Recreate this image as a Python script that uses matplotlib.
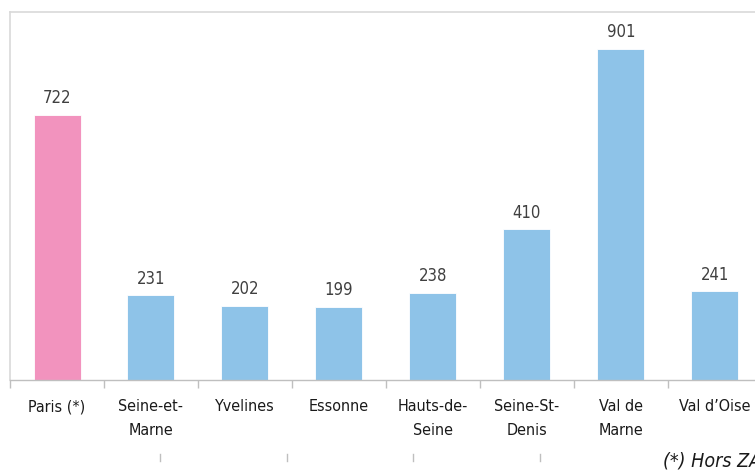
import matplotlib.pyplot as plt
from matplotlib import font_manager
from matplotlib.lines import Line2D

# --- Data ---
departements = ["Paris (*)", "Seine-et-\nMarne", "Yvelines", "Essonne",
                "Hauts-de-\nSeine", "Seine-St-\nDenis", "Val de\nMarne", "Val d\u2019Oise"]
valeurs = [722, 231, 202, 199, 238, 410, 901, 241]
couleurs = ["#F293BE"] + ["#8EC3E8"] * 7

# --- Font: condensed DejaVu if the system has it ---
cond = font_manager.findfont(font_manager.FontProperties(family="DejaVu Sans", stretch="condensed"))
stretch = "condensed" if "Condensed" in cond else "normal"
plt.rcParams["font.family"] = ["DejaVu Sans"]
plt.rcParams["font.stretch"] = stretch
fs = 11.5 if stretch == "condensed" else 10.5

W, H = 755, 472
fig = plt.figure(figsize=(W / 100, H / 100), dpi=100)
ax = fig.add_axes([10 / W, 92 / H, 752 / W, 368 / H])

x = list(range(len(valeurs)))
ax.bar(x, valeurs, width=0.5, color=couleurs, edgecolor="white", linewidth=0.6)
for xi, v in zip(x, valeurs):
    ax.text(xi, v + 20, str(v), ha="center", va="bottom", fontsize=fs + 0.5,
            color="#404040", fontstretch=stretch)

ax.set_xlim(-0.5, 7.5)
ax.set_ylim(0, 1001)
ax.set_yticks([])

ax.set_xticks(x)
ax.set_xticklabels(departements, fontsize=fs, color="#1a1a1a",
                   linespacing=1.75, va="top", fontstretch=stretch)
ax.tick_params(axis="x", which="major", length=0, pad=14)
ax.set_xticks([i - 0.5 for i in range(len(valeurs))], minor=True)
ax.tick_params(axis="x", which="minor", length=6, color="#BFBFBF", width=1)

for s in ["top", "left", "right"]:
    ax.spines[s].set_color("#D9D9D9")
    ax.spines[s].set_linewidth(1.2)
ax.spines["bottom"].set_color("#BFBFBF")
ax.spines["bottom"].set_linewidth(1)

# stray marks below the labels
for px in [160, 287, 413, 540]:
    fig.add_artist(Line2D([px / W, px / W], [1 - 454 / H, 1 - 461 / H],
                          color="#BFBFBF", lw=1))

fig.text(663 / W, 1 - 461 / H, "(*) Hors ZA", fontsize=fs + 2.5, style="italic",
         color="#1a1a1a", ha="left", va="center", fontstretch=stretch)

fig.savefig("out.png", dpi=100)
